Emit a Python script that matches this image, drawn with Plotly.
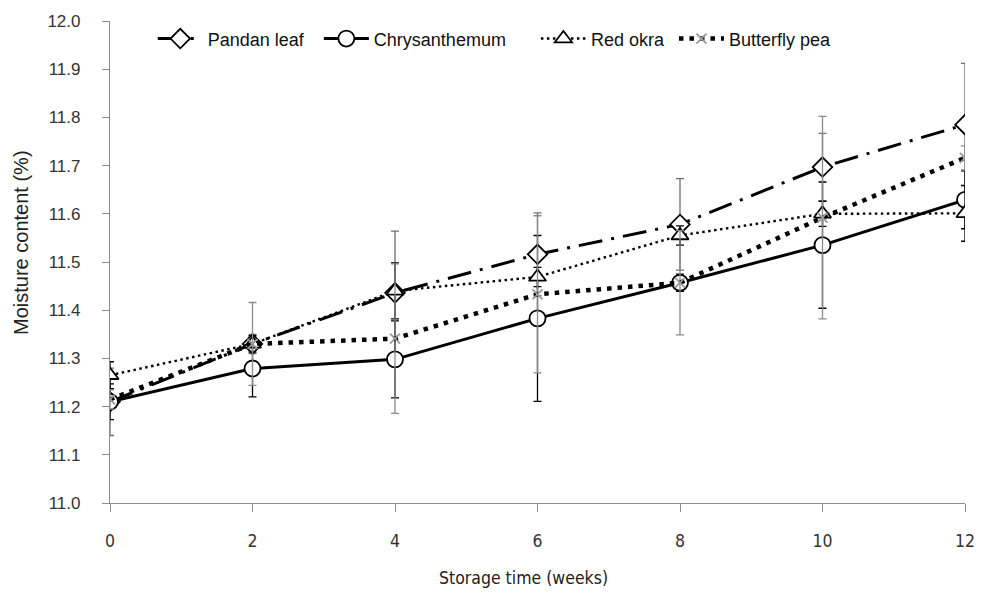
import plotly.graph_objects as go

weeks = [0, 2, 4, 6, 8, 10, 12]

pandan = [11.21, 11.33, 11.436, 11.516, 11.578, 11.697, 11.785]
pandan_err = [0.07, 0.02, 0.128, 0.086, 0.095, 0.07, 0.127]

chrys = [11.21, 11.279, 11.298, 11.383, 11.457, 11.535, 11.629]
chrys_err = [0.037, 0.059, 0.08, 0.172, 0.018, 0.131, 0.06]

okra = [11.265, 11.33, 11.44, 11.469, 11.555, 11.600, 11.601]
okra_err = [0.028, 0.017, 0.058, 0.02, 0.02, 0.026, 0.058]

butterfly = [11.215, 11.33, 11.341, 11.433, 11.457, 11.592, 11.716]
butterfly_err = [0.02, 0.086, 0.155, 0.163, 0.108, 0.21, 0.025]

y_ticks = [11.0, 11.1, 11.2, 11.3, 11.4, 11.5, 11.6, 11.7, 11.8, 11.9, 12.0]
x_ticks = [0, 2, 4, 6, 8, 10, 12]

NARROW = "Liberation Sans Narrow, DejaVu Sans Condensed, Liberation Sans, Arial"
NB = "\u00a0"

fig = go.Figure()

def add(name, y, err, dash, lw, symbol, msize, mcolor, mline, errcolor, lcolor="black"):
    fig.add_trace(go.Scatter(
        x=weeks, y=y, name=name, mode="lines+markers",
        line=dict(color=lcolor, width=lw, dash=dash),
        marker=dict(symbol=symbol, size=msize, color=mcolor,
                    line=dict(color=mline, width=1.8)),
        error_y=dict(type="data", array=err, visible=True,
                     color=errcolor, thickness=1.3, width=4),
    ))

add("Pandan leaf" + NB * 2, pandan, pandan_err, "24px,9px,3px,9px", 3, "diamond", 15, "white", "black", "#6e6e6e")
add("Chrysanthemum" + NB * 5, chrys, chrys_err, "solid", 3, "circle", 16, "white", "black", "black")
add("Red okra" + NB, okra, okra_err, "2.5px,3.5px", 2.4, "triangle-up", 15, "white", "black", "black")
add("Butterfly pea", butterfly, butterfly_err, "4.5px,6px", 4.5, "x-thin-open", 10, "#999999", "#999999", "#8a8a8a")

fig.update_layout(
    width=987, height=597,
    margin=dict(l=110, r=15, t=19, b=94),
    paper_bgcolor="white", plot_bgcolor="white",
    font=dict(family="Liberation Sans, Arial, sans-serif", size=16, color="#222"),
    legend=dict(orientation="h", x=0.05, y=0.963, xanchor="left", yanchor="middle",
                bgcolor="rgba(255,255,255,0)", font=dict(size=18, color="#111"),
                itemwidth=45, tracegroupgap=0),
    showlegend=True,
    annotations=[
        dict(text="Storage time (weeks)", xref="paper", yref="paper",
             x=0.484, y=-0.155, xanchor="center", yanchor="middle", showarrow=False,
             font=dict(family=NARROW, size=17.5, color="#222")),
        dict(text="Moisture content (%)", xref="paper", yref="paper",
             x=-0.105, y=0.54, xanchor="center", yanchor="middle", showarrow=False,
             textangle=-90, font=dict(size=20, color="#222")),
    ],
)

fig.update_xaxes(
    range=[0, 12], tickvals=x_ticks, ticktext=[str(v) for v in x_ticks],
    showgrid=False, zeroline=False, showline=True, linecolor="#8c8c8c", linewidth=1.2,
    ticks="outside", ticklen=8, tickcolor="#8c8c8c", ticklabelstandoff=14,
    tickfont=dict(family=NARROW, size=17.5, color="#333"),
)
fig.update_yaxes(
    range=[11.0, 12.0], tickvals=y_ticks, ticktext=[f"{v:.1f}" for v in y_ticks],
    showgrid=False, zeroline=False, showline=True, linecolor="#8c8c8c", linewidth=1.2,
    ticks="outside", ticklen=7, tickcolor="#8c8c8c", ticklabelstandoff=18,
    tickfont=dict(size=17, color="#333"),
)

fig.write_html("out.html")
